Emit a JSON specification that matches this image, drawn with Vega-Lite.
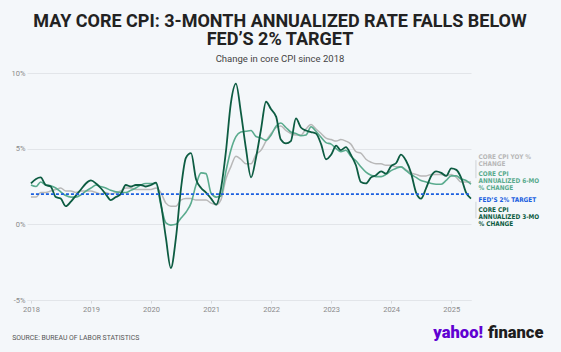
{
  "$schema": "https://vega.github.io/schema/vega-lite/v6.json",
  "width": 444,
  "height": 227,
  "autosize": {"type": "none"},
  "padding": {"left": 27, "top": 73, "right": 90, "bottom": 52},
  "background": "#f4f7fa",
  "config": {"view": {"stroke": null}, "font": "Roboto"},
  "title": {
    "text": ["MAY CORE CPI: 3-MONTH ANNUALIZED RATE FALLS BELOW", "FED’S 2% TARGET"],
    "subtitle": "Change in core CPI since 2018",
    "anchor": "middle",
    "frame": "group",
    "dx": 31,
    "font": "Roboto",
    "fontSize": 18,
    "fontWeight": "bold",
    "color": "#222222",
    "lineHeight": 18,
    "subtitleFont": "Roboto",
    "subtitleFontSize": 9.5,
    "subtitleColor": "#444444",
    "subtitlePadding": 5,
    "offset": 6
  },
  "datasets": {
    "cpi": [
      {"date": "2018-01-01", "yoy": 1.8, "m6": 2.6, "m3": 2.7},
      {"date": "2018-02-01", "yoy": 1.8, "m6": 2.5, "m3": 3.0},
      {"date": "2018-03-01", "yoy": 2.1, "m6": 2.8, "m3": 3.1},
      {"date": "2018-04-01", "yoy": 2.1, "m6": 2.6, "m3": 2.6},
      {"date": "2018-05-01", "yoy": 2.2, "m6": 2.55, "m3": 2.5},
      {"date": "2018-06-01", "yoy": 2.3, "m6": 2.4, "m3": 1.8},
      {"date": "2018-07-01", "yoy": 2.4, "m6": 2.15, "m3": 1.7},
      {"date": "2018-08-01", "yoy": 2.2, "m6": 1.9, "m3": 1.2},
      {"date": "2018-09-01", "yoy": 2.2, "m6": 1.8, "m3": 1.5},
      {"date": "2018-10-01", "yoy": 2.1, "m6": 1.8, "m3": 1.9},
      {"date": "2018-11-01", "yoy": 2.2, "m6": 1.95, "m3": 2.3},
      {"date": "2018-12-01", "yoy": 2.2, "m6": 2.2, "m3": 2.7},
      {"date": "2019-01-01", "yoy": 2.2, "m6": 2.4, "m3": 2.9},
      {"date": "2019-02-01", "yoy": 2.1, "m6": 2.6, "m3": 2.7},
      {"date": "2019-03-01", "yoy": 2.0, "m6": 2.5, "m3": 2.4},
      {"date": "2019-04-01", "yoy": 2.1, "m6": 2.4, "m3": 2.0},
      {"date": "2019-05-01", "yoy": 2.0, "m6": 2.25, "m3": 1.6},
      {"date": "2019-06-01", "yoy": 2.1, "m6": 2.15, "m3": 1.8},
      {"date": "2019-07-01", "yoy": 2.2, "m6": 2.1, "m3": 2.0},
      {"date": "2019-08-01", "yoy": 2.4, "m6": 2.1, "m3": 2.6},
      {"date": "2019-09-01", "yoy": 2.4, "m6": 2.25, "m3": 2.5},
      {"date": "2019-10-01", "yoy": 2.3, "m6": 2.4, "m3": 2.6},
      {"date": "2019-11-01", "yoy": 2.3, "m6": 2.6, "m3": 2.6},
      {"date": "2019-12-01", "yoy": 2.3, "m6": 2.7, "m3": 2.5},
      {"date": "2020-01-01", "yoy": 2.3, "m6": 2.7, "m3": 2.6},
      {"date": "2020-02-01", "yoy": 2.4, "m6": 2.7, "m3": 2.75},
      {"date": "2020-03-01", "yoy": 2.1, "m6": 1.3, "m3": 1.4},
      {"date": "2020-04-01", "yoy": 1.4, "m6": 0.1, "m3": -0.9},
      {"date": "2020-05-01", "yoy": 1.2, "m6": -0.05, "m3": -2.9},
      {"date": "2020-06-01", "yoy": 1.2, "m6": 0.0, "m3": -0.9},
      {"date": "2020-07-01", "yoy": 1.6, "m6": 0.4, "m3": 2.3},
      {"date": "2020-08-01", "yoy": 1.7, "m6": 0.8, "m3": 4.4},
      {"date": "2020-09-01", "yoy": 1.7, "m6": 1.4, "m3": 4.7},
      {"date": "2020-10-01", "yoy": 1.6, "m6": 2.6, "m3": 3.0},
      {"date": "2020-11-01", "yoy": 1.6, "m6": 3.4, "m3": 2.4},
      {"date": "2020-12-01", "yoy": 1.6, "m6": 3.35, "m3": 2.1},
      {"date": "2021-01-01", "yoy": 1.4, "m6": 2.05, "m3": 1.7},
      {"date": "2021-02-01", "yoy": 1.3, "m6": 1.8, "m3": 1.3},
      {"date": "2021-03-01", "yoy": 1.6, "m6": 1.85, "m3": 2.3},
      {"date": "2021-04-01", "yoy": 3.0, "m6": 3.5, "m3": 4.8},
      {"date": "2021-05-01", "yoy": 3.8, "m6": 4.9, "m3": 8.0},
      {"date": "2021-06-01", "yoy": 4.5, "m6": 5.8, "m3": 9.3},
      {"date": "2021-07-01", "yoy": 4.3, "m6": 6.1, "m3": 7.4},
      {"date": "2021-08-01", "yoy": 4.0, "m6": 6.15, "m3": 5.0},
      {"date": "2021-09-01", "yoy": 4.0, "m6": 6.2, "m3": 3.1},
      {"date": "2021-10-01", "yoy": 4.6, "m6": 5.8, "m3": 4.4},
      {"date": "2021-11-01", "yoy": 4.9, "m6": 5.7, "m3": 6.3},
      {"date": "2021-12-01", "yoy": 5.5, "m6": 5.55, "m3": 8.1},
      {"date": "2022-01-01", "yoy": 6.0, "m6": 5.9, "m3": 7.6},
      {"date": "2022-02-01", "yoy": 6.4, "m6": 6.5, "m3": 7.1},
      {"date": "2022-03-01", "yoy": 6.5, "m6": 6.7, "m3": 5.6},
      {"date": "2022-04-01", "yoy": 6.2, "m6": 6.4, "m3": 5.35},
      {"date": "2022-05-01", "yoy": 6.0, "m6": 6.1, "m3": 5.5},
      {"date": "2022-06-01", "yoy": 5.9, "m6": 6.0, "m3": 7.0},
      {"date": "2022-07-01", "yoy": 5.9, "m6": 5.85, "m3": 6.4},
      {"date": "2022-08-01", "yoy": 6.3, "m6": 5.9, "m3": 6.2},
      {"date": "2022-09-01", "yoy": 6.6, "m6": 6.45, "m3": 6.1},
      {"date": "2022-10-01", "yoy": 6.3, "m6": 6.15, "m3": 6.0},
      {"date": "2022-11-01", "yoy": 6.0, "m6": 5.75, "m3": 5.3},
      {"date": "2022-12-01", "yoy": 5.7, "m6": 5.4, "m3": 4.3},
      {"date": "2023-01-01", "yoy": 5.6, "m6": 5.3, "m3": 4.6},
      {"date": "2023-02-01", "yoy": 5.5, "m6": 5.0, "m3": 5.2},
      {"date": "2023-03-01", "yoy": 5.6, "m6": 4.8, "m3": 4.9},
      {"date": "2023-04-01", "yoy": 5.5, "m6": 4.9, "m3": 5.1},
      {"date": "2023-05-01", "yoy": 5.3, "m6": 4.5, "m3": 4.6},
      {"date": "2023-06-01", "yoy": 4.8, "m6": 4.2, "m3": 3.9},
      {"date": "2023-07-01", "yoy": 4.7, "m6": 3.8, "m3": 2.8},
      {"date": "2023-08-01", "yoy": 4.3, "m6": 3.45, "m3": 2.7},
      {"date": "2023-09-01", "yoy": 4.1, "m6": 3.25, "m3": 3.1},
      {"date": "2023-10-01", "yoy": 4.0, "m6": 3.15, "m3": 3.25},
      {"date": "2023-11-01", "yoy": 4.0, "m6": 3.15, "m3": 3.5},
      {"date": "2023-12-01", "yoy": 3.9, "m6": 3.3, "m3": 3.35},
      {"date": "2024-01-01", "yoy": 3.9, "m6": 3.55, "m3": 3.85},
      {"date": "2024-02-01", "yoy": 3.8, "m6": 3.7, "m3": 4.05},
      {"date": "2024-03-01", "yoy": 3.8, "m6": 3.8, "m3": 4.6},
      {"date": "2024-04-01", "yoy": 3.6, "m6": 3.55, "m3": 4.2},
      {"date": "2024-05-01", "yoy": 3.4, "m6": 3.3, "m3": 3.4},
      {"date": "2024-06-01", "yoy": 3.3, "m6": 3.1, "m3": 2.1},
      {"date": "2024-07-01", "yoy": 3.2, "m6": 2.9, "m3": 1.7},
      {"date": "2024-08-01", "yoy": 3.2, "m6": 2.8, "m3": 2.4},
      {"date": "2024-09-01", "yoy": 3.3, "m6": 2.7, "m3": 3.2},
      {"date": "2024-10-01", "yoy": 3.3, "m6": 2.65, "m3": 3.5},
      {"date": "2024-11-01", "yoy": 3.3, "m6": 2.65, "m3": 3.4},
      {"date": "2024-12-01", "yoy": 3.2, "m6": 2.9, "m3": 3.2},
      {"date": "2025-01-01", "yoy": 3.3, "m6": 3.2, "m3": 3.7},
      {"date": "2025-02-01", "yoy": 3.1, "m6": 3.2, "m3": 3.6},
      {"date": "2025-03-01", "yoy": 2.8, "m6": 3.0, "m3": 3.1},
      {"date": "2025-04-01", "yoy": 2.8, "m6": 2.9, "m3": 2.1},
      {"date": "2025-05-01", "yoy": 2.8, "m6": 2.65, "m3": 1.7}
    ],
    "one": [{"k": 1}]
  },
  "layer": [
    {
      "data": {"name": "cpi"},
      "mark": {"type": "line", "color": "#b8b8b8", "strokeWidth": 1.5, "interpolate": "monotone"},
      "encoding": {
        "x": {
          "field": "date",
          "type": "temporal",
          "title": null,
          "scale": {
            "type": "utc",
            "domain": [
              {"year": 2017, "month": 12, "date": 8, "utc": true},
              {"year": 2025, "month": 5, "date": 1, "utc": true}
            ]
          },
          "axis": {
            "format": "%Y",
            "tickCount": {"interval": "year", "step": 1},
            "grid": false,
            "domainColor": "#e2e5e9",
            "tickColor": "#d5d8dc",
            "tickSize": 3,
            "labelColor": "#8a8a8a",
            "labelFontSize": 7.5,
            "labelPadding": 2,
            "labelFont": "Roboto"
          }
        },
        "y": {
          "field": "yoy",
          "type": "quantitative",
          "title": null,
          "scale": {"domain": [-5, 10], "nice": false},
          "axis": {
            "values": [-5, 0, 5, 10],
            "labelExpr": "datum.value + '%'",
            "domain": false,
            "ticks": false,
            "gridColor": "#e2e5e9",
            "gridWidth": 1,
            "labelColor": "#8a8a8a",
            "labelFontSize": 7.5,
            "labelPadding": 2,
            "labelFont": "Roboto"
          }
        }
      }
    },
    {
      "data": {"name": "cpi"},
      "mark": {"type": "line", "color": "#5aab8e", "strokeWidth": 1.6, "interpolate": "monotone"},
      "encoding": {
        "x": {"field": "date", "type": "temporal"},
        "y": {"field": "m6", "type": "quantitative"}
      }
    },
    {
      "data": {"name": "cpi"},
      "mark": {"type": "line", "color": "#0d5c42", "strokeWidth": 1.8, "interpolate": "monotone"},
      "encoding": {
        "x": {"field": "date", "type": "temporal"},
        "y": {"field": "m3", "type": "quantitative"}
      }
    },
    {
      "data": {"name": "one"},
      "mark": {"type": "rule", "color": "#1a5fe0", "strokeWidth": 1.7, "strokeDash": [3, 2]},
      "encoding": {
        "x": {"datum": {"year": 2018, "month": 1, "date": 1, "utc": true}, "type": "temporal"},
        "x2": {"datum": {"year": 2025, "month": 5, "date": 1, "utc": true}},
        "y": {"datum": 2, "type": "quantitative"}
      }
    },
    {
      "data": {"name": "one"},
      "mark": {"type": "rule", "color": "#cfd2d6", "strokeWidth": 1},
      "encoding": {
        "x": {"datum": {"year": 2025, "month": 5, "date": 31, "utc": true}, "type": "temporal"},
        "y": {"datum": 4.24, "type": "quantitative"},
        "y2": {"datum": 3.05}
      }
    },
    {
      "data": {"name": "one"},
      "mark": {"type": "rule", "color": "#cfd2d6", "strokeWidth": 1},
      "encoding": {
        "x": {"datum": {"year": 2025, "month": 5, "date": 31, "utc": true}, "type": "temporal"},
        "y": {"datum": 1.49, "type": "quantitative"},
        "y2": {"datum": 0.4}
      }
    },
    {
      "data": {"name": "one"},
      "mark": {"type": "text", "text": ["CORE CPI YOY %", "CHANGE"], "align": "left", "baseline": "top", "font": "DejaVu Sans Condensed", "fontWeight": "bold", "fontSize": 6.4, "lineHeight": 7.2, "color": "#b8b8b8"},
      "encoding": {
        "x": {"datum": {"year": 2025, "month": 6, "date": 16, "utc": true}, "type": "temporal"},
        "y": {"datum": 4.67, "type": "quantitative"}
      }
    },
    {
      "data": {"name": "one"},
      "mark": {"type": "text", "text": ["CORE CPI", "ANNUALIZED 6-MO", "% CHANGE"], "align": "left", "baseline": "top", "font": "DejaVu Sans Condensed", "fontWeight": "bold", "fontSize": 6.4, "lineHeight": 7.2, "color": "#5aab8e"},
      "encoding": {
        "x": {"datum": {"year": 2025, "month": 6, "date": 16, "utc": true}, "type": "temporal"},
        "y": {"datum": 3.55, "type": "quantitative"}
      }
    },
    {
      "data": {"name": "one"},
      "mark": {"type": "text", "text": "FED’S 2% TARGET", "align": "left", "baseline": "top", "font": "DejaVu Sans Condensed", "fontWeight": "bold", "fontSize": 6.4, "color": "#1a5fe0"},
      "encoding": {
        "x": {"datum": {"year": 2025, "month": 6, "date": 16, "utc": true}, "type": "temporal"},
        "y": {"datum": 1.83, "type": "quantitative"}
      }
    },
    {
      "data": {"name": "one"},
      "mark": {"type": "text", "text": ["CORE CPI", "ANNUALIZED 3-MO", "% CHANGE"], "align": "left", "baseline": "top", "font": "DejaVu Sans Condensed", "fontWeight": "bold", "fontSize": 6.4, "lineHeight": 7.2, "color": "#0d5c42"},
      "encoding": {
        "x": {"datum": {"year": 2025, "month": 6, "date": 16, "utc": true}, "type": "temporal"},
        "y": {"datum": 1.14, "type": "quantitative"}
      }
    },
    {
      "data": {"name": "one"},
      "mark": {"type": "text", "text": "SOURCE: BUREAU OF LABOR STATISTICS", "align": "left", "baseline": "middle", "font": "Roboto", "fontSize": 6.9, "color": "#555555"},
      "encoding": {
        "x": {"datum": {"year": 2017, "month": 9, "date": 9, "utc": true}, "type": "temporal"},
        "y": {"datum": -7.5, "type": "quantitative"}
      }
    },
    {
      "data": {"name": "one"},
      "mark": {"type": "text", "text": "yahoo!", "align": "left", "baseline": "middle", "font": "Roboto", "fontWeight": 900, "fontSize": 16.5, "color": "#6001d2"},
      "encoding": {
        "x": {"datum": {"year": 2024, "month": 9, "date": 14, "utc": true}, "type": "temporal"},
        "y": {"datum": -7.2, "type": "quantitative"}
      }
    },
    {
      "data": {"name": "one"},
      "mark": {"type": "text", "text": "finance", "align": "left", "baseline": "middle", "font": "Roboto", "fontWeight": 900, "fontSize": 16.5, "color": "#1d1d1d"},
      "encoding": {
        "x": {"datum": {"year": 2025, "month": 8, "date": 12, "utc": true}, "type": "temporal"},
        "y": {"datum": -7.2, "type": "quantitative"}
      }
    }
  ]
}
